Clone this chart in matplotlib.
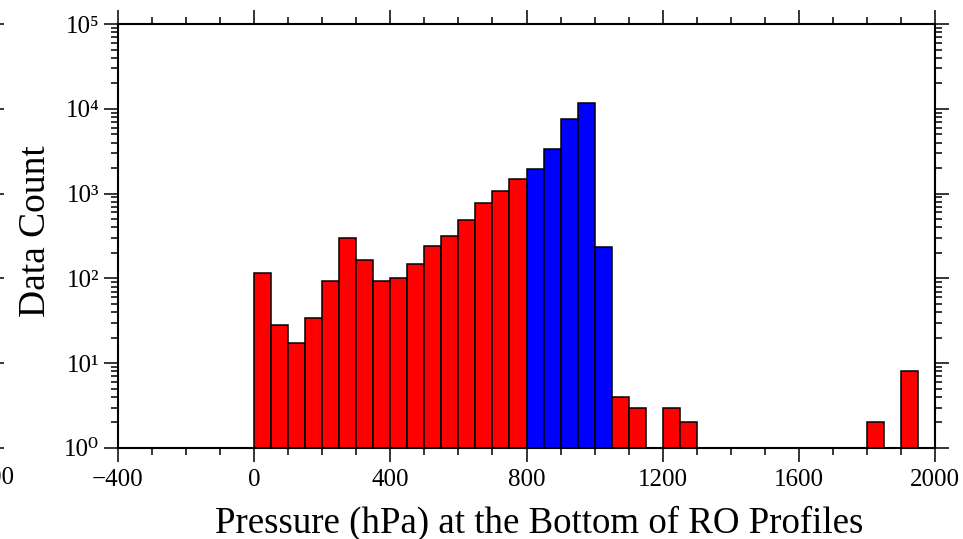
import matplotlib
matplotlib.use('Agg')

import numpy as np
import matplotlib.pyplot as plt
from matplotlib.ticker import MultipleLocator, LogLocator, NullFormatter, FuncFormatter

plt.rcParams['font.family'] = ['Liberation Serif', 'DejaVu Serif']

# 50 hPa bins, left edges 0..1950
bin_width = 50
bin_left = np.arange(0, 2000, bin_width)
counts = [116, 28, 17.5, 34, 93, 297, 166, 93, 102, 147,
          243, 316, 488, 768, 1073, 1486, 1966, 3330, 7500, 11700,
          233, 4, 3, 0, 3, 2, 0, 0, 0, 0,
          0, 0, 0, 0, 0, 0, 2, 0, 8, 0]
# blue = 800-1050 hPa bins
blue_range = (800, 1050)

counts = np.array(counts, dtype=float)
mask = counts > 0
is_blue = (bin_left >= blue_range[0]) & (bin_left < blue_range[1])
colors = np.where(is_blue, '#0000ff', '#ff0000')

SUP = str.maketrans('0123456789-', '⁰¹²³⁴⁵⁶⁷⁸⁹⁻')

def pow10_label(v, pos):
    return '10' + str(int(round(np.log10(v)))).translate(SUP)

fig = plt.figure(figsize=(9.63, 5.39), dpi=100)
ax = fig.add_axes([118 / 963, 1 - 448 / 539, 817 / 963, 424 / 539])

ax.bar(bin_left[mask], counts[mask] - 1, bottom=1, width=bin_width, align='edge',
       color=colors[mask], edgecolor='black', linewidth=1.1)

def style_axis(a):
    a.set_yscale('log')
    a.set_ylim(1, 1e5)
    a.set_xlim(-400, 2000)
    a.xaxis.set_major_locator(MultipleLocator(400))
    a.xaxis.set_minor_locator(MultipleLocator(100))
    a.yaxis.set_major_locator(LogLocator(base=10, numticks=10))
    a.yaxis.set_minor_locator(LogLocator(base=10, subs=np.arange(2, 10), numticks=10))
    a.yaxis.set_major_formatter(FuncFormatter(pow10_label))
    a.yaxis.set_minor_formatter(NullFormatter())
    a.tick_params(which='both', direction='out', top=True, right=True, width=1.1)
    a.tick_params(which='major', length=10, labelsize=18)
    a.tick_params(which='minor', length=5)
    for s in a.spines.values():
        s.set_linewidth(1.5)

style_axis(ax)
ax.tick_params(axis='x', pad=5)
ax.set_xlabel('Pressure (hPa) at the Bottom of RO Profiles', fontsize=26.6)
ax.set_ylabel('Data Count', fontsize=27)
ax.xaxis.set_label_coords(0.515, -0.135)
ax.yaxis.set_label_coords(-0.079, 0.512)

# neighbouring panel, cut off at the left edge of the picture
ax2 = fig.add_axes([(-10 - 817) / 963, 1 - 448 / 539, 817 / 963, 424 / 539])
style_axis(ax2)
ax2.set_yticklabels([])
ax2.patch.set_visible(False)

fig.savefig('out.png', dpi=100)
